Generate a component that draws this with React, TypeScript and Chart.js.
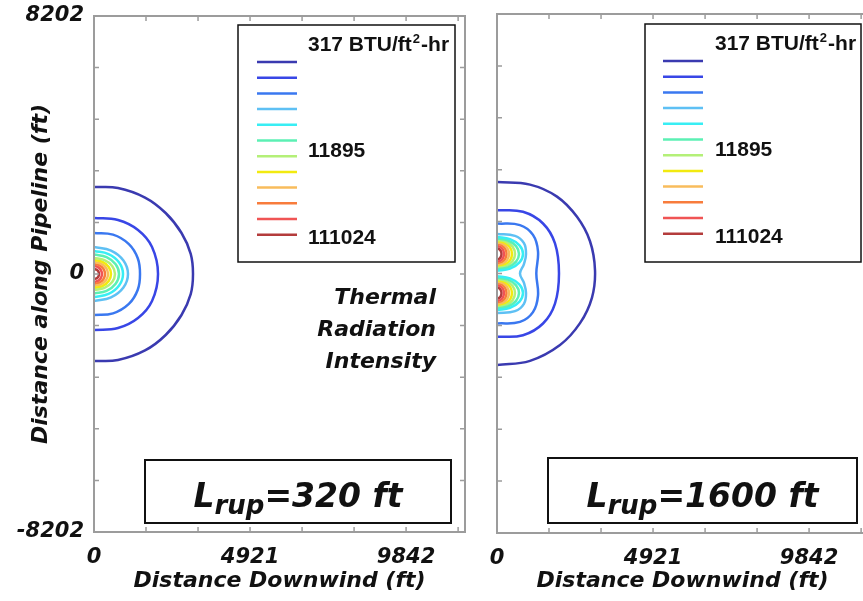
import React, { useEffect, useRef } from 'react';
import { Chart, registerables } from 'chart.js';

Chart.register(...registerables);

const FONT_AX = '"DejaVu Sans", sans-serif';
const FONT_LEG = '"Liberation Sans", Arial, sans-serif';

// ---- axes ----
const X_MAX = 11700;
const Y_MIN = -8202;
const Y_MAX = 8202;
const X_TICKS = [0, 1640, 3281, 4921, 6562, 8202, 9842, 11483];
const X_TICK_LABELS = ['0', '', '', '4921', '', '', '9842', ''];
const Y_TICKS = [-8202, -6562, -4921, -3281, -1640, 0, 1640, 3281, 4921, 6562, 8202];
const Y_TICK_LABELS = ['-8202', '', '', '', '', '0', '', '', '', '', '8202'];

// ---- contour levels (BTU/ft2-hr) ----
const LEVEL_COLORS = ['#3a3ab0', '#3846e6', '#3a78f0', '#5ec0f4', '#38eef4', '#5cf0b4', '#b4f078', '#f2ea10', '#f8bc5c', '#f87c3c', '#f05454', '#b43c3c'];
const LEGEND_TEXT = ['317', '', '', '', '', '', '11895', '', '', '', '', '111024'];
const PANEL_TITLES = ['320', '1600'];

// ---- Lrup = 320 ft contours: [x ft, y ft] ----
const lc1 = [[0, 2766], [757, 2734], [1609, 2430], [2260, 1939], [2760, 1303], [3050, 640], [3122, 0], [3050, -640], [2760, -1303], [2260, -1939], [1609, -2430], [757, -2734], [0, -2766]];
const lc2 = [[0, 1780], [757, 1717], [1388, 1399], [1830, 858], [2019, 0], [1830, -858], [1388, -1399], [757, -1717], [0, -1780]];
const lc3 = [[0, 1303], [600, 1250], [1100, 950], [1380, 500], [1451, 0], [1380, -500], [1100, -950], [600, -1250], [0, -1303]];
const lc4 = [[0, 858], [536, 743], [928, 429], [1072, 0], [928, -429], [536, -743], [0, -858]];
const lc5 = [[0, 731], [458, 633], [792, 366], [915, 0], [792, -366], [458, -633], [0, -731]];
const lc6 = [[0, 620], [395, 537], [683, 310], [789, 0], [683, -310], [395, -537], [0, -620]];
const lc7 = [[0, 509], [331, 441], [573, 255], [662, 0], [573, -255], [331, -441], [0, -509]];
const lc8 = [[0, 445], [268, 385], [464, 223], [536, 0], [464, -223], [268, -385], [0, -445]];
const lc9 = [[0, 381], [221, 330], [383, 191], [442, 0], [383, -191], [221, -330], [0, -381]];
const lc10 = [[0, 318], [174, 275], [301, 159], [347, 0], [301, -159], [174, -275], [0, -318]];
const lc11 = [[0, 254], [126, 220], [218, 127], [252, 0], [218, -127], [126, -220], [0, -254]];
const lc12 = [[0, 159], [79, 138], [137, 80], [158, 0], [137, -80], [79, -138], [0, -159]];
const LEFT_CONTOURS = [lc1, lc2, lc3, lc4, lc5, lc6, lc7, lc8, lc9, lc10, lc11, lc12];
const LEFT_LEVELS = [0, 1, 2, 3, 4, 5, 6, 7, 8, 9, 10, 11];

// ---- Lrup = 1600 ft contours ----
const rc1 = [[0, 2892], [1041, 2810], [1892, 2430], [2523, 1790], [2933, 1020], [3091, 100], [2996, -760], [2618, -1570], [1987, -2260], [1041, -2760], [0, -2892]];
const rc2 = [[0, 2000], [820, 1950], [1451, 1580], [1829, 950], [1955, 0], [1829, -950], [1451, -1580], [820, -1950], [0, -2000]];
const rc3 = [[0, 1580], [725, 1530], [1135, 1220], [1293, 700], [1240, 0], [1293, -700], [1135, -1220], [725, -1530], [0, -1580]];
const rc4 = [[0, 1250], [568, 1190], [850, 960], [915, 620], [850, 300], [725, 0], [850, -300], [915, -620], [850, -960], [568, -1190], [0, -1250]];
const rc5u = [[0, 1157], [410, 1085], [710, 889], [820, 620], [710, 351], [410, 155], [0, 83]];
const rc5l = [[0, -83], [410, -155], [710, -351], [820, -620], [710, -889], [410, -1085], [0, -1157]];
const rc6u = [[0, 1110], [347, 1044], [601, 865], [694, 620], [601, 375], [347, 196], [0, 130]];
const rc6l = [[0, -130], [347, -196], [601, -375], [694, -620], [601, -865], [347, -1044], [0, -1110]];
const rc7u = [[0, 1063], [284, 1004], [492, 842], [568, 620], [492, 398], [284, 236], [0, 177]];
const rc7l = [[0, -177], [284, -236], [492, -398], [568, -620], [492, -842], [284, -1004], [0, -1063]];
const rc8u = [[0, 1031], [237, 976], [410, 826], [473, 620], [410, 414], [237, 264], [0, 209]];
const rc8l = [[0, -209], [237, -264], [410, -414], [473, -620], [410, -826], [237, -976], [0, -1031]];
const rc9u = [[0, 984], [189, 935], [327, 802], [378, 620], [327, 438], [189, 305], [0, 256]];
const rc9l = [[0, -256], [189, -305], [327, -438], [378, -620], [327, -802], [189, -935], [0, -984]];
const rc10u = [[0, 936], [150, 894], [260, 778], [300, 620], [260, 462], [150, 346], [0, 304]];
const rc10l = [[0, -304], [150, -346], [260, -462], [300, -620], [260, -778], [150, -894], [0, -936]];
const rc11u = [[0, 873], [111, 839], [191, 747], [221, 620], [191, 493], [111, 401], [0, 367]];
const rc11l = [[0, -367], [111, -401], [191, -493], [221, -620], [191, -747], [111, -839], [0, -873]];
const rc12u = [[0, 794], [71, 771], [123, 707], [142, 620], [123, 533], [71, 469], [0, 446]];
const rc12l = [[0, -446], [71, -469], [123, -533], [142, -620], [123, -707], [71, -771], [0, -794]];
const RIGHT_CONTOURS = [rc1, rc2, rc3, rc4, rc5u, rc5l, rc6u, rc6l, rc7u, rc7l, rc8u, rc8l, rc9u, rc9l, rc10u, rc10l, rc11u, rc11l, rc12u, rc12l];
const RIGHT_LEVELS = [0, 1, 2, 3, 4, 4, 5, 5, 6, 6, 7, 7, 8, 8, 9, 9, 10, 10, 11, 11];

const LEGEND_DY = [-17, 0, 0, 0, 0, 0, -5, 0, 0, 0, 0, 4];

function toDatasets(contours: number[][][], levels: number[]) {
  return contours.map((pts, i) => ({
    data: pts.map((p) => ({ x: p[0], y: p[1] })),
    borderColor: LEVEL_COLORS[levels[i]],
    backgroundColor: LEVEL_COLORS[levels[i]],
    borderWidth: 2.5,
    showLine: true,
    pointRadius: 0,
    pointHoverRadius: 0,
    tension: 0.4,
    fill: false,
  }));
}

function makePlugin(p: any) {
  return {
    id: 'frame_' + p.id,
    afterDraw(chart: any) {
      const { ctx, chartArea: a } = chart;
      const xs = chart.scales.x;
      const ys = chart.scales.y;
      const ox = p.ox;
      ctx.save();
      // frame
      ctx.strokeStyle = '#9c9c9c';
      ctx.lineWidth = 2;
      ctx.strokeRect(a.left, a.top, a.right - a.left, a.bottom - a.top);
      ctx.lineWidth = 1.5;
      ctx.beginPath();
      xs.ticks.forEach((t: any) => {
        const px = xs.getPixelForValue(t.value);
        ctx.moveTo(px, a.bottom);
        ctx.lineTo(px, a.bottom - 5);
        ctx.moveTo(px, a.top);
        ctx.lineTo(px, a.top + 5);
      });
      ys.ticks.forEach((t: any) => {
        const py = ys.getPixelForValue(t.value);
        ctx.moveTo(a.left, py);
        ctx.lineTo(a.left + 5, py);
        ctx.moveTo(a.right, py);
        ctx.lineTo(a.right - 5, py);
      });
      ctx.stroke();

      // legend box
      const [bl, bt, br, bb] = p.legendBox;
      ctx.fillStyle = '#fff';
      ctx.fillRect(bl - ox, bt, br - bl, bb - bt);
      ctx.strokeStyle = '#111';
      ctx.lineWidth = 1.5;
      ctx.strokeRect(bl - ox, bt, br - bl, bb - bt);
      ctx.lineWidth = 2.5;
      LEVEL_COLORS.forEach((c, i) => {
        const y = p.lineY0 + i * p.lineStep;
        ctx.strokeStyle = c;
        ctx.beginPath();
        ctx.moveTo(p.lineX0 - ox, y);
        ctx.lineTo(p.lineX1 - ox, y);
        ctx.stroke();
      });
      ctx.fillStyle = '#111';
      ctx.textBaseline = 'middle';
      ctx.textAlign = 'left';
      LEGEND_TEXT.forEach((txt, i) => {
        if (!txt) return;
        const y = p.lineY0 + i * p.lineStep + LEGEND_DY[i];
        let x = p.labelX - ox;
        ctx.font = 'bold 21px ' + FONT_LEG;
        if (i === 0) {
          const s1 = txt + ' BTU/ft';
          ctx.fillText(s1, x, y);
          x += ctx.measureText(s1).width + 1;
          ctx.font = 'bold 13px ' + FONT_LEG;
          ctx.fillText('2', x, y - 6);
          x += ctx.measureText('2').width + 1;
          ctx.font = 'bold 21px ' + FONT_LEG;
          ctx.fillText('-hr', x, y);
        } else {
          ctx.fillText(txt, x, y);
        }
      });

      // Lrup box
      const [ll, lt, lr, lb] = p.lrupBox;
      ctx.fillStyle = '#fff';
      ctx.fillRect(ll - ox, lt, lr - ll, lb - lt);
      ctx.strokeStyle = '#111';
      ctx.lineWidth = 2;
      ctx.strokeRect(ll - ox, lt, lr - ll, lb - lt);
      ctx.fillStyle = '#111';
      ctx.textBaseline = 'alphabetic';
      const big = 'italic bold 33px ' + FONT_AX;
      const small = 'italic bold 26px ' + FONT_AX;
      const rest = '=' + p.title + ' ft';
      ctx.font = big;
      const wL = ctx.measureText('L').width;
      const wR = ctx.measureText(rest).width;
      ctx.font = small;
      const wS = ctx.measureText('rup').width;
      const total = wL + wS + wR;
      let tx = (ll + lr) / 2 - ox - total / 2;
      const base = p.lrupBase;
      ctx.font = big;
      ctx.fillText('L', tx, base);
      tx += wL;
      ctx.font = small;
      ctx.fillText('rup', tx, base + 7);
      tx += wS;
      ctx.font = big;
      ctx.fillText(rest, tx, base);

      if (p.thermal) {
        ctx.font = 'italic bold 22px ' + FONT_AX;
        ctx.textAlign = 'right';
        ctx.textBaseline = 'middle';
        ['Thermal', 'Radiation', 'Intensity'].forEach((s, i) => {
          ctx.fillText(s, 436 - ox, 298 + i * 32);
        });
      }
      ctx.restore();
    },
  };
}

function makeChart(canvas: HTMLCanvasElement, datasets: any[], p: any) {
  const tickFont = { family: FONT_AX, size: 21, style: 'italic' as const, weight: 'bold' as const };
  const titleFont = { family: FONT_AX, size: 22, style: 'italic' as const, weight: 'bold' as const };
  return new Chart(canvas, {
    type: 'scatter',
    data: { datasets },
    options: {
      animation: false,
      responsive: false,
      devicePixelRatio: 1,
      events: [],
      layout: { padding: { top: p.padTop, right: p.padRight, left: 0, bottom: 0 } },
      plugins: { legend: { display: false }, tooltip: { enabled: false } },
      scales: {
        x: {
          type: 'linear',
          min: 0,
          max: X_MAX,
          afterBuildTicks: (s: any) => {
            s.ticks = X_TICKS.map((v) => ({ value: v }));
          },
          afterFit: (s: any) => {
            s.height = p.xHeight;
            s.paddingLeft = 0;
            s.paddingRight = 0;
            s.paddingTop = 0;
            s.paddingBottom = 0;
          },
          grid: { display: false, drawTicks: false },
          border: { display: false },
          ticks: {
            autoSkip: false,
            maxRotation: 0,
            minRotation: 0,
            padding: 13,
            color: '#111',
            font: tickFont,
            callback: (v: any) => {
              const i = X_TICKS.indexOf(Number(v));
              return i >= 0 ? X_TICK_LABELS[i] : '';
            },
          },
          title: {
            display: true,
            text: 'Distance Downwind (ft)',
            color: '#111',
            font: titleFont,
            padding: { top: 0, bottom: 7 },
          },
        },
        y: {
          type: 'linear',
          min: Y_MIN,
          max: Y_MAX,
          afterBuildTicks: (s: any) => {
            s.ticks = Y_TICKS.map((v) => ({ value: v }));
          },
          afterFit: (s: any) => {
            s.width = p.yWidth;
            s.paddingLeft = 0;
            s.paddingRight = 0;
            s.paddingTop = 0;
            s.paddingBottom = 0;
          },
          grid: { display: false, drawTicks: false },
          border: { display: false },
          ticks: {
            display: p.yLabels,
            autoSkip: false,
            padding: 10,
            color: '#111',
            font: tickFont,
            callback: (v: any) => {
              const i = Y_TICKS.indexOf(Number(v));
              return i >= 0 ? Y_TICK_LABELS[i] : '';
            },
          },
          title: {
            display: p.yLabels,
            text: 'Distance along Pipeline (ft)',
            color: '#111',
            font: titleFont,
            padding: { top: 28, bottom: 0 },
          },
        },
      },
    } as any,
    plugins: [makePlugin(p)],
  });
}

export default function App() {
  const leftRef = useRef<HTMLCanvasElement>(null);
  const rightRef = useRef<HTMLCanvasElement>(null);

  useEffect(() => {
    const c1 = makeChart(leftRef.current!, toDatasets(LEFT_CONTOURS, LEFT_LEVELS), {
      id: 'l',
      ox: 0,
      padTop: 16,
      padRight: 15,
      xHeight: 69,
      yWidth: 94,
      yLabels: true,
      legendBox: [238, 25, 455, 262],
      lineX0: 257,
      lineX1: 297,
      lineY0: 62,
      lineStep: 15.7,
      labelX: 308,
      lrupBox: [145, 460, 451, 523],
      lrupBase: 507,
      title: PANEL_TITLES[0],
      thermal: true,
    });
    const c2 = makeChart(rightRef.current!, toDatasets(RIGHT_CONTOURS, RIGHT_LEVELS), {
      id: 'r',
      ox: 480,
      padTop: 14,
      padRight: 12,
      xHeight: 68,
      yWidth: 17,
      yLabels: false,
      legendBox: [645, 24, 861, 262],
      lineX0: 663,
      lineX1: 703,
      lineY0: 61,
      lineStep: 15.7,
      labelX: 715,
      lrupBox: [548, 458, 857, 523],
      lrupBase: 507,
      title: PANEL_TITLES[1],
      thermal: false,
    });
    return () => {
      c1.destroy();
      c2.destroy();
    };
  }, []);

  return (
    <div style={{ position: 'absolute', left: 0, top: 0, width: 863, height: 601, overflow: 'hidden', background: '#fff' }}>
      <canvas ref={leftRef} width={480} height={601} style={{ position: 'absolute', left: 0, top: 0, width: 480, height: 601 }} />
      <canvas ref={rightRef} width={400} height={601} style={{ position: 'absolute', left: 480, top: 0, width: 400, height: 601 }} />
    </div>
  );
}
